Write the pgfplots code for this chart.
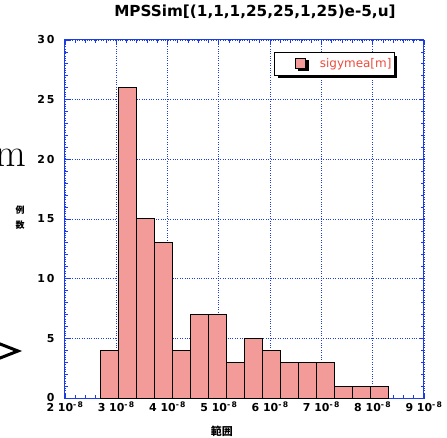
\documentclass[border=0pt]{standalone}
\usepackage{fontspec}
\newfontfamily\dsans{DejaVu Sans}
\newfontfamily\jp{Noto Sans CJK JP}
\usepackage{pgfplots}
\pgfplotsset{compat=1.18}
\usetikzlibrary{shadows}
\definecolor{axblue}{RGB}{30,60,230}
\definecolor{barpink}{RGB}{242,155,152}
\definecolor{legred}{RGB}{235,75,60}
\begin{document}
\begin{tikzpicture}
\useasboundingbox (-65bp,-40bp) rectangle (382bp,398bp);
\clip (-65bp,-40bp) rectangle (382bp,398bp);
% stray glyphs at the left edge of the reference
\node[anchor=base east,inner sep=0pt,font=\fontsize{40}{40}\selectfont] at (-39bp,231bp) {m};
\draw[line width=3bp] (-70bp,56bp) -- (-47bp,47bp) -- (-70bp,38bp);
\begin{axis}[
  at={(0,0)}, anchor=south west,
  scale only axis, width=359bp, height=358bp,
  xmin=2, xmax=9, ymin=0, ymax=30,
  xtick={2,...,9},
  xticklabels={2 10\textsuperscript{-\,8},3 10\textsuperscript{-\,8},4 10\textsuperscript{-\,8},5 10\textsuperscript{-\,8},6 10\textsuperscript{-\,8},7 10\textsuperscript{-\,8},8 10\textsuperscript{-\,8},9 10\textsuperscript{-\,8}},
  ytick={0,5,...,30},
  yticklabels={0,5,1\,0,1\,5,2\,0,2\,5,3\,0},
  minor x tick num=4, minor y tick num=4,
  axis line style={axblue, line width=1bp},
  every tick/.style={axblue, line width=0.8bp},
  major tick length=5bp, minor tick length=3bp,
  tick align=inside,
  grid=major,
  major grid style={axblue, dotted, line width=0.9bp},
  ticklabel style={font=\dsans\bfseries\fontsize{11}{11}\selectfont},
  yticklabel style={xshift=-7bp},
  title={MPSSim[(1,1,1,25,25,1,25)e-5,u]},
  title style={font=\dsans\bfseries\fontsize{15.3}{15.3}\selectfont, at={(rel axis cs:0.529,1)}, anchor=base, yshift=18bp},
  xlabel={範囲},
  xlabel style={font=\jp\bfseries\fontsize{11}{11}\selectfont, at={(rel axis cs:0.437,0)}, anchor=center, yshift=-33bp},
  ylabel={例\\数},
  ylabel style={font=\jp\bfseries\fontsize{9}{15}\selectfont, align=center, rotate=-90, at={(rel axis cs:-0.125,0.503)}, anchor=center},
  legend style={at={(0.919,0.966)}, anchor=north east, draw=black, line width=1bp, fill=white,
    text=legred, font=\dsans\fontsize{12}{12}\selectfont, inner xsep=1bp, inner ysep=4bp,
    drop shadow={fill=black, shadow xshift=3bp, shadow yshift=-3bp, opacity=1}},
  legend image code/.code={\path (0bp,0bp) (41bp,0bp);
    \draw[fill=barpink,draw=black,line width=0.8bp] (19bp,-4bp) rectangle (29bp,6bp);},
]
\addplot[ybar interval, fill=barpink, draw=black, line width=1bp] coordinates {
  (2.70,4) (3.05,26) (3.40,15) (3.75,13) (4.10,4) (4.45,7) (4.80,7) (5.15,3)
  (5.50,5) (5.85,4) (6.20,3) (6.55,3) (6.90,3) (7.25,1) (7.60,1) (7.95,1) (8.30,1)};
\addlegendentry{sigymea[m]}
\end{axis}
\end{tikzpicture}
\end{document}
